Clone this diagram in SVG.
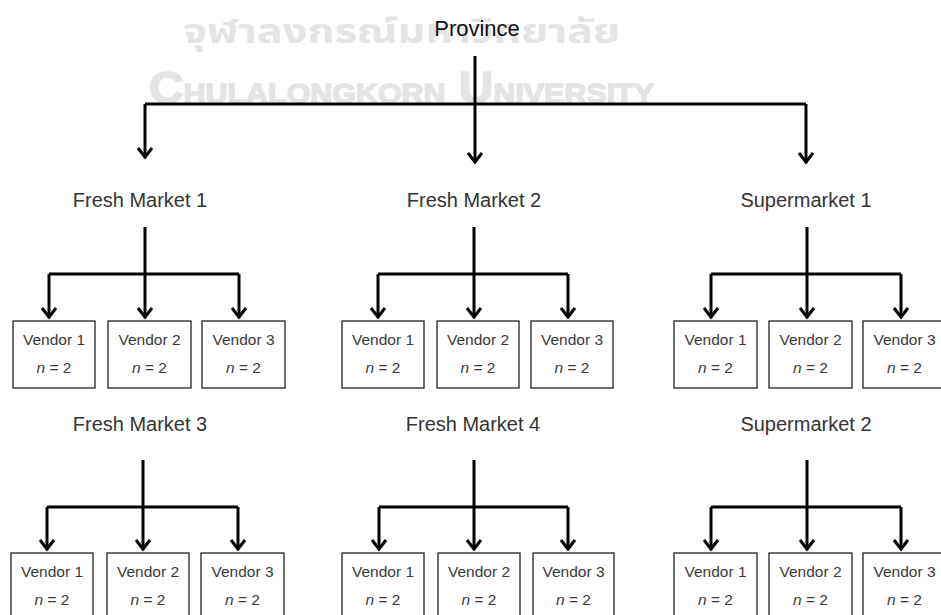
<svg xmlns="http://www.w3.org/2000/svg" width="941" height="615" viewBox="0 0 941 615">
<defs>
<style>
.wm-th{font-family:"Noto Sans Thai","Noto Sans","DejaVu Sans",sans-serif;font-size:34px;font-weight:bold;fill:#e4e4e4}
.wm-en{font-family:"Liberation Sans Narrow","Liberation Sans",sans-serif;font-weight:bold;fill:#e4e4e4;stroke:#e4e4e4;stroke-width:1.5}
.title{font-family:"Liberation Sans",Arial,sans-serif;font-size:22px;fill:#111;text-anchor:middle}
.label{font-family:"Liberation Sans",Arial,sans-serif;font-size:20px;fill:#333;text-anchor:middle}
.box rect{fill:#fff;stroke:#222;stroke-width:1.3}
.box text{font-family:"Liberation Sans",Arial,sans-serif;font-size:15.5px;fill:#3a3a3a;text-anchor:middle}
.ln{fill:none;stroke:#000;stroke-width:3}
.arr{fill:none;stroke:#000;stroke-width:3;marker-end:url(#ah)}
</style>
<marker id="ah" viewBox="-12 -9 14 18" refX="0" refY="0" markerWidth="14" markerHeight="18" markerUnits="userSpaceOnUse" orient="auto">
<path d="M-10,-7 L-1,0 L-10,7" fill="none" stroke="#000" stroke-width="3"/>
</marker>
</defs>

<g id="watermark">
<text class="wm-th" x="183" y="43" textLength="437" lengthAdjust="spacingAndGlyphs">จุฬาลงกรณ์มหาวิทยาลัย</text>
<text class="wm-en" x="149" y="103" font-size="44" textLength="505" lengthAdjust="spacingAndGlyphs">C<tspan font-size="28">HULALONGKORN</tspan> U<tspan font-size="28">NIVERSITY</tspan></text>
</g>

<g id="connectors">
<path class="arr" d="M475,56 V163"/>
<path class="ln" d="M145,104 H806"/>
<path class="arr" d="M145,104 V158"/>
<path class="arr" d="M806,104 V163"/>

<path class="ln" d="M145,227 V274 M49,274 H239"/>
<path class="arr" d="M49,274 V318"/><path class="arr" d="M145,274 V318"/><path class="arr" d="M239,274 V318"/>
<path class="ln" d="M474,227 V274 M378,274 H568"/>
<path class="arr" d="M378,274 V318"/><path class="arr" d="M474,274 V318"/><path class="arr" d="M568,274 V318"/>
<path class="ln" d="M807,227 V274 M711,274 H901"/>
<path class="arr" d="M711,274 V318"/><path class="arr" d="M807,274 V318"/><path class="arr" d="M901,274 V318"/>

<path class="ln" d="M143,460 V507 M47,507 H238"/>
<path class="arr" d="M47,507 V550"/><path class="arr" d="M143,507 V550"/><path class="arr" d="M238,507 V550"/>
<path class="ln" d="M474,460 V507 M379,507 H568"/>
<path class="arr" d="M379,507 V550"/><path class="arr" d="M474,507 V550"/><path class="arr" d="M568,507 V550"/>
<path class="ln" d="M807,460 V507 M711,507 H901"/>
<path class="arr" d="M711,507 V550"/><path class="arr" d="M807,507 V550"/><path class="arr" d="M901,507 V550"/>
</g>

<g id="province"><text class="title" x="477" y="36">Province</text></g>

<g id="fm1"><text class="label" x="140" y="207">Fresh Market 1</text></g>
<g id="fm2"><text class="label" x="474" y="207">Fresh Market 2</text></g>
<g id="sm1"><text class="label" x="806" y="207">Supermarket 1</text></g>
<g id="fm3"><text class="label" x="140" y="431">Fresh Market 3</text></g>
<g id="fm4"><text class="label" x="473" y="431">Fresh Market 4</text></g>
<g id="sm2"><text class="label" x="806" y="431">Supermarket 2</text></g>

<g id="fm1-v1" class="box"><rect x="13" y="321" width="82" height="67"/><text x="54" y="345">Vendor 1</text><text x="54" y="373"><tspan font-style="italic">n</tspan> = 2</text></g>
<g id="fm1-v2" class="box"><rect x="108" y="321" width="83" height="67"/><text x="149.5" y="345">Vendor 2</text><text x="149.5" y="373"><tspan font-style="italic">n</tspan> = 2</text></g>
<g id="fm1-v3" class="box"><rect x="202" y="321" width="83" height="67"/><text x="243.5" y="345">Vendor 3</text><text x="243.5" y="373"><tspan font-style="italic">n</tspan> = 2</text></g>

<g id="fm2-v1" class="box"><rect x="342" y="321" width="82" height="67"/><text x="383" y="345">Vendor 1</text><text x="383" y="373"><tspan font-style="italic">n</tspan> = 2</text></g>
<g id="fm2-v2" class="box"><rect x="437" y="321" width="82" height="67"/><text x="478" y="345">Vendor 2</text><text x="478" y="373"><tspan font-style="italic">n</tspan> = 2</text></g>
<g id="fm2-v3" class="box"><rect x="531" y="321" width="82" height="67"/><text x="572" y="345">Vendor 3</text><text x="572" y="373"><tspan font-style="italic">n</tspan> = 2</text></g>

<g id="sm1-v1" class="box"><rect x="674" y="321" width="83" height="67"/><text x="715.5" y="345">Vendor 1</text><text x="715.5" y="373"><tspan font-style="italic">n</tspan> = 2</text></g>
<g id="sm1-v2" class="box"><rect x="769" y="321" width="83" height="67"/><text x="810.5" y="345">Vendor 2</text><text x="810.5" y="373"><tspan font-style="italic">n</tspan> = 2</text></g>
<g id="sm1-v3" class="box"><rect x="863" y="321" width="83" height="67"/><text x="904.5" y="345">Vendor 3</text><text x="904.5" y="373"><tspan font-style="italic">n</tspan> = 2</text></g>

<g id="fm3-v1" class="box"><rect x="11" y="553" width="82" height="70"/><text x="52" y="577">Vendor 1</text><text x="52" y="605"><tspan font-style="italic">n</tspan> = 2</text></g>
<g id="fm3-v2" class="box"><rect x="107" y="553" width="82" height="70"/><text x="148" y="577">Vendor 2</text><text x="148" y="605"><tspan font-style="italic">n</tspan> = 2</text></g>
<g id="fm3-v3" class="box"><rect x="201" y="553" width="83" height="70"/><text x="242.5" y="577">Vendor 3</text><text x="242.5" y="605"><tspan font-style="italic">n</tspan> = 2</text></g>

<g id="fm4-v1" class="box"><rect x="342" y="553" width="82" height="70"/><text x="383" y="577">Vendor 1</text><text x="383" y="605"><tspan font-style="italic">n</tspan> = 2</text></g>
<g id="fm4-v2" class="box"><rect x="438" y="553" width="82" height="70"/><text x="479" y="577">Vendor 2</text><text x="479" y="605"><tspan font-style="italic">n</tspan> = 2</text></g>
<g id="fm4-v3" class="box"><rect x="533" y="553" width="81" height="70"/><text x="573.5" y="577">Vendor 3</text><text x="573.5" y="605"><tspan font-style="italic">n</tspan> = 2</text></g>

<g id="sm2-v1" class="box"><rect x="674" y="553" width="83" height="70"/><text x="715.5" y="577">Vendor 1</text><text x="715.5" y="605"><tspan font-style="italic">n</tspan> = 2</text></g>
<g id="sm2-v2" class="box"><rect x="769" y="553" width="83" height="70"/><text x="810.5" y="577">Vendor 2</text><text x="810.5" y="605"><tspan font-style="italic">n</tspan> = 2</text></g>
<g id="sm2-v3" class="box"><rect x="863" y="553" width="83" height="70"/><text x="904.5" y="577">Vendor 3</text><text x="904.5" y="605"><tspan font-style="italic">n</tspan> = 2</text></g>
</svg>
